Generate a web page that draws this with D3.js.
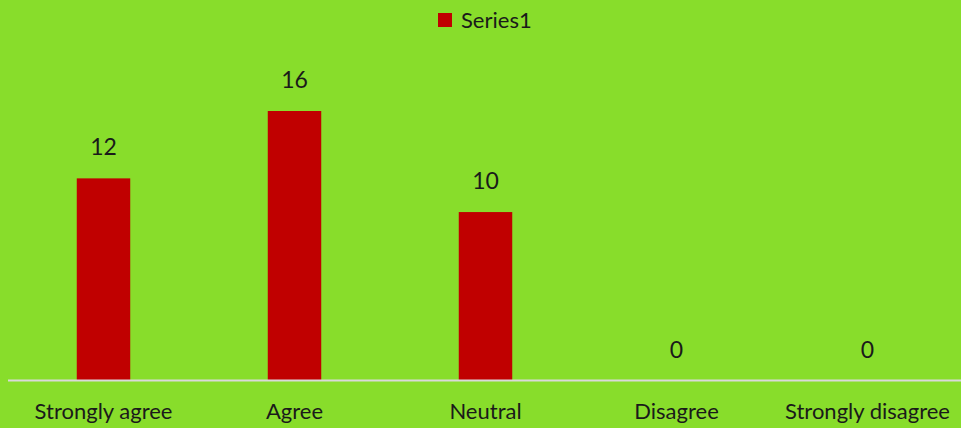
<!DOCTYPE html>
<html><head><meta charset="utf-8">
<script src="https://cdn.jsdelivr.net/npm/d3@7"></script>
<style>html,body{margin:0;padding:0;background:#88dd2b;overflow:hidden}</style>
</head><body>
<script>
const categories = ["Strongly agree","Agree","Neutral","Disagree","Strongly disagree"];
const values = [12,16,10,0,0];
const seriesName = "Series1";

const W = 961, H = 428;
const svg = d3.select("body").append("svg").attr("width", W).attr("height", H)
  .style("font-family", "Lato, 'Open Sans', sans-serif");
svg.append("rect").attr("width", W).attr("height", H).attr("fill", "#88dd2b");

const baseY = 380.5;
const x = d3.scaleBand().domain(categories).range([8, 963]).paddingInner(0.72).paddingOuter(0.36);
const y = d3.scaleLinear().domain([0, 16]).range([baseY, 111]);

svg.selectAll("rect.bar").data(values).join("rect").attr("class","bar")
  .attr("x", (d,i) => x(categories[i]))
  .attr("width", x.bandwidth())
  .attr("y", d => y(d))
  .attr("height", d => baseY - y(d))
  .attr("fill", "#c00000");

svg.append("line").attr("x1", 8).attr("x2", W).attr("y1", baseY).attr("y2", baseY)
  .attr("stroke", "#d9d9d9").attr("stroke-width", 2);

svg.selectAll("text.val").data(values).join("text").attr("class","val")
  .attr("x", (d,i) => x(categories[i]) + x.bandwidth()/2)
  .attr("y", d => y(d) - 23)
  .attr("text-anchor","middle").attr("font-size", 23).attr("fill","#1a1a1a")
  .text(d => d);

const xAxis = d3.axisBottom(x).tickSize(0).tickPadding(0);
const gx = svg.append("g").attr("transform", `translate(0,${baseY})`).call(xAxis);
gx.select(".domain").remove();
gx.selectAll("text").attr("font-size", 22).attr("fill","#1a1a1a")
  .attr("font-family","Lato, 'Open Sans', sans-serif").attr("dy", null).attr("y", 38);

const lg = svg.append("g");
lg.append("rect").attr("x", 438).attr("y", 13).attr("width", 14).attr("height", 14).attr("fill","#c00000");
lg.append("text").attr("x", 461).attr("y", 28).attr("font-size", 22).attr("fill","#1a1a1a").text(seriesName);
</script>
</body></html>
